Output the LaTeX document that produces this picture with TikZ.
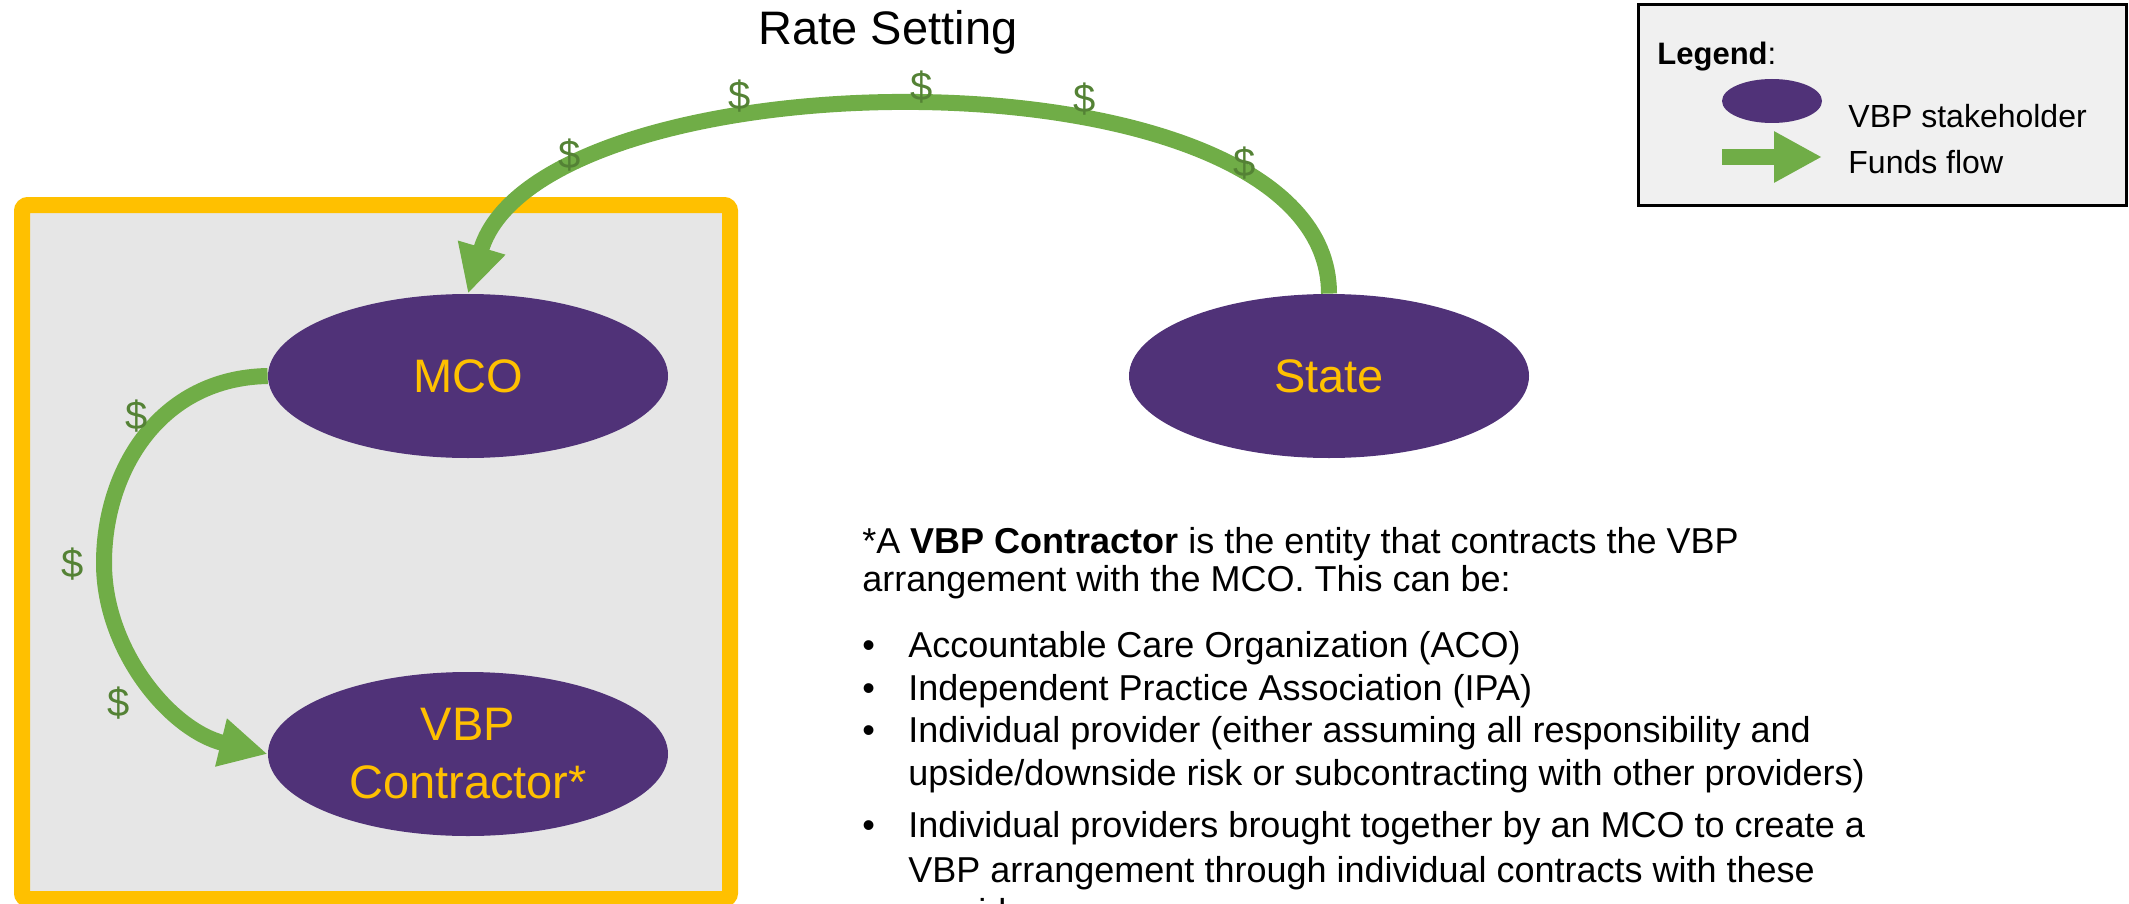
\documentclass[tikz,border=0pt]{standalone}
\usepackage{fontspec}
\setmainfont{Liberation Sans}
\usetikzlibrary{shapes.geometric,arrows.meta}
\definecolor{vbppurple}{RGB}{80,50,120}
\definecolor{vbpgold}{RGB}{255,192,0}
\definecolor{flowgreen}{RGB}{112,173,71}
\definecolor{dollargreen}{RGB}{84,130,53}
\definecolor{boxgray}{RGB}{230,230,230}
\definecolor{legendgray}{RGB}{240,240,240}
\tikzset{
  stake/.style={ellipse, fill=vbppurple, minimum width=200pt, minimum height=82pt,
    inner sep=0pt, text=vbpgold, align=center,
    font=\fontsize{23.5}{29}\selectfont},
  flow/.style={line width=8pt, draw=flowgreen, -{Triangle[length=24pt,width=23pt]}},
  dollar/.style={text=dollargreen, inner sep=0pt, font=\fontsize{20}{24}\selectfont},
  bodytext/.style={anchor=base west, inner sep=0pt, font=\fontsize{18}{21.6}\selectfont},
  legendtext/.style={anchor=base west, inner sep=0pt, font=\fontsize{16}{19}\selectfont},
}
\begin{document}
\begin{tikzpicture}[x=0.5pt,y=-0.5pt]
\useasboundingbox (0,0) rectangle (2129,904);
\clip (0,0) rectangle (2129,904);

% framed area
\draw[line width=8pt, draw=vbpgold, fill=boxgray, rounded corners=3pt] (22,205) rectangle (730,899);

% stakeholders
\node[stake] (mco) at (468,376) {MCO};
\node[stake] (vbp) at (468,754) {VBP\\Contractor*};
\node[stake] (state) at (1329,376) {State};

% title
\node[anchor=base, inner sep=0pt, font=\fontsize{23.5}{28}\selectfont] (title) at (888,45) {Rate Setting};

% funds flows
\draw[flow] (state.north) .. controls (1329,40) and (540,51) .. (mco.north);
\draw[flow] (mco.west) .. controls (160,378) and (104,470) .. (104,563)
                       .. controls (104,650) and (170,730) .. (vbp.west);

% dollar signs
\node[dollar] (d1) at (570,155) {\$};
\node[dollar] (d2) at (740,96) {\$};
\node[dollar] (d3) at (922,87) {\$};
\node[dollar] (d4) at (1085,99) {\$};
\node[dollar] (d5) at (1245,163) {\$};
\node[dollar] (d6) at (137,416) {\$};
\node[dollar] (d7) at (73,564) {\$};
\node[dollar] (d8) at (119,703) {\$};

% legend
\draw[line width=1.5pt, fill=legendgray] (1638,5) rectangle (2126,205);
\node[anchor=base west, inner sep=0pt, font=\fontsize{15.5}{18}\selectfont] (legtitle) at (1657,65) {\textbf{Legend}:};
\node[ellipse, fill=vbppurple, minimum width=50pt, minimum height=22pt, inner sep=0pt] (legell) at (1772,101) {};
\node[legendtext] (legstake) at (1848,127) {VBP stakeholder};
\coordinate (legA) at (1722,157);
\coordinate (legB) at (1822,157);
\draw[line width=8pt, draw=flowgreen, -{Triangle[length=24pt,width=24pt]}] (legA) -- (legB);
\node[legendtext] (legflow) at (1848,173) {Funds flow};

% explanatory text
\node[bodytext] (t1) at (862,553) {*A \textbf{VBP Contractor} is the entity that contracts the VBP};
\node[bodytext] (t2) at (862,591) {arrangement with the MCO. This can be:};
\node[bodytext] (u1) at (862,657) {•};
\node[bodytext] (b1) at (908,657) {Accountable Care Organization (ACO)};
\node[bodytext] (u2) at (862,700) {•};
\node[bodytext] (b2) at (908,700) {Independent Practice Association (IPA)};
\node[bodytext] (u3) at (862,742) {•};
\node[bodytext] (b3) at (908,742) {Individual provider (either assuming all responsibility and};
\node[bodytext] (b3b) at (908,785) {upside/downside risk or subcontracting with other providers)};
\node[bodytext] (u4) at (862,837) {•};
\node[bodytext] (b4) at (908,837) {Individual providers brought together by an MCO to create a};
\node[bodytext] (b4b) at (908,882) {VBP arrangement through individual contracts with these};
\node[bodytext] (b4c) at (908,924) {providers.};
\end{tikzpicture}
\end{document}
